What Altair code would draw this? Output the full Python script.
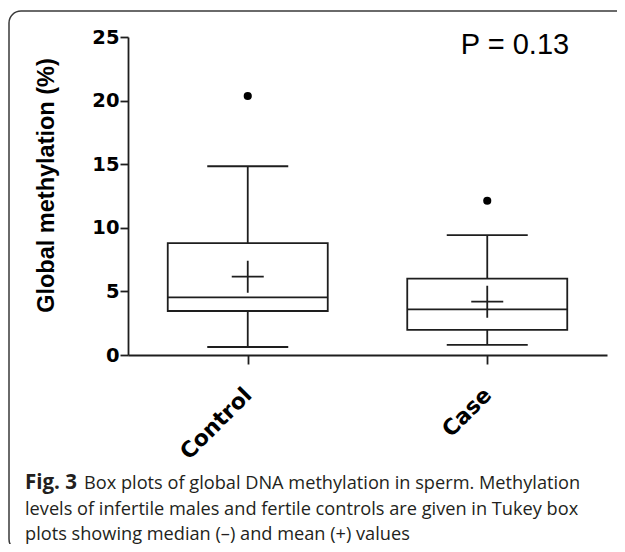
import altair as alt
import pandas as pd

# ---- data ----
groups = ["Control", "Case"]
lower_whisker = [0.63, 0.79]
q1 = [3.46, 1.97]
median = [4.53, 3.59]
q3 = [8.80, 6.00]
upper_whisker = [14.84, 9.43]
mean = [6.16, 4.19]
outlier_group = ["Control", "Case"]
outlier_value = [20.36, 12.13]
y_ticks = [0, 5, 10, 15, 20, 25]
y_title = "Global methylation (%)"
p_text = "P = 0.13"
caption_bold = "Fig. 3"
caption_line1 = "Box plots of global DNA methylation in sperm. Methylation"
caption_line2 = "levels of infertile males and fertile controls are given in Tukey box"
caption_line3 = "plots showing median (\u2013) and mean (+) values"

INK = "#1e1e1e"
LW = 1.8

box_df = pd.DataFrame({
    "group": groups, "lo": lower_whisker, "q1": q1, "median": median,
    "q3": q3, "hi": upper_whisker, "mean": mean,
})
out_df = pd.DataFrame({"group": outlier_group, "value": outlier_value})
one = pd.DataFrame({"k": [0]})

x_axis = alt.Axis(
    title=None, labelAngle=-45, labelAlign="right", labelBaseline="middle",
    labelFont="DejaVu Sans", labelFontWeight="bold", labelFontSize=22,
    labelColor="black", labelPadding=27, labelOffset=0,
    tickSize=9, tickColor=INK, tickWidth=LW,
    domainColor=INK, domainWidth=LW, grid=False,
)
y_axis = alt.Axis(
    title=y_title, values=y_ticks, grid=False,
    labelFont="DejaVu Sans", labelFontWeight="bold", labelFontSize=19.5,
    labelColor="black", labelPadding=1,
    tickSize=8, tickColor=INK, tickWidth=LW,
    domainColor=INK, domainWidth=LW,
    titleFont="Liberation Sans", titleFontWeight="bold", titleFontSize=23.5,
    titleColor="black", titleX=-82, titleY=148, titleAlign="center",
    titleBaseline="middle", titleAngle=-90,
)
x_scale = alt.Scale(type="point", domain=groups, padding=0.5)
y_scale = alt.Scale(domain=[0, 25], nice=False, zero=True)


def X():
    return alt.X("group:N", scale=x_scale, axis=x_axis)


def Y(field):
    return alt.Y(f"{field}:Q", scale=y_scale, axis=y_axis)


frame = alt.Chart(one).mark_rect(
    filled=False, stroke="#3a3a3a", strokeWidth=1.5, cornerRadius=12
).encode(
    x=alt.value(-119), x2=alt.value(660), y=alt.value(-26), y2=alt.value(514)
)

whisker = alt.Chart(box_df).mark_rule(color=INK, strokeWidth=LW).encode(
    x=X(), y=Y("lo"), y2="hi:Q"
)
box = alt.Chart(box_df).mark_bar(
    size=160, fill="white", stroke=INK, strokeWidth=LW
).encode(x=X(), y=Y("q1"), y2="q3:Q")
med = alt.Chart(box_df).mark_tick(size=160, thickness=LW, color=INK, opacity=1).encode(
    x=X(), y=Y("median")
)
cap_lo = alt.Chart(box_df).mark_tick(size=81, thickness=LW, color=INK, opacity=1).encode(
    x=X(), y=Y("lo")
)
cap_hi = alt.Chart(box_df).mark_tick(size=81, thickness=LW, color=INK, opacity=1).encode(
    x=X(), y=Y("hi")
)
cross = alt.Chart(box_df).mark_point(
    shape="M-1,0H1M0,-1V1", size=1024, filled=False, stroke=INK,
    strokeWidth=LW, opacity=1
).encode(x=X(), y=Y("mean"))
outl = alt.Chart(out_df).mark_circle(size=66, color="black", opacity=1).encode(
    x=X(), y=Y("value")
)

ptxt = alt.Chart(one).mark_text(
    font="Liberation Sans", fontSize=29, align="center", baseline="alphabetic",
    color="black"
).encode(x=alt.value(387), y=alt.value(17), text=alt.value(p_text))

cap_font = "Open Sans"
cap_color = "#231f20"
CAP_FS = 18.2
cb = alt.Chart(one).mark_text(
    font=cap_font, fontSize=20.5, fontWeight="bold", align="left",
    baseline="alphabetic", color=cap_color
).encode(x=alt.value(-103), y=alt.value(452), text=alt.value(caption_bold))
c1 = alt.Chart(one).mark_text(
    font=cap_font, fontSize=CAP_FS, align="left", baseline="alphabetic", color=cap_color
).encode(x=alt.value(-44), y=alt.value(452), text=alt.value(caption_line1))
c2 = alt.Chart(one).mark_text(
    font=cap_font, fontSize=CAP_FS, align="left", baseline="alphabetic", color=cap_color
).encode(x=alt.value(-103), y=alt.value(478), text=alt.value(caption_line2))
c3 = alt.Chart(one).mark_text(
    font=cap_font, fontSize=CAP_FS, align="left", baseline="alphabetic", color=cap_color
).encode(x=alt.value(-103), y=alt.value(503), text=alt.value(caption_line3))

chart = alt.layer(
    frame, whisker, box, med, cap_lo, cap_hi, cross, outl, ptxt, cb, c1, c2, c3
).properties(
    width=479, height=318,
    autosize=alt.AutoSizeParams(type="none"),
    padding={"left": 120, "top": 29, "right": 10, "bottom": 189},
).configure_view(stroke=None)

chart.save("out.html", embed_options={"renderer": "svg", "actions": False})
